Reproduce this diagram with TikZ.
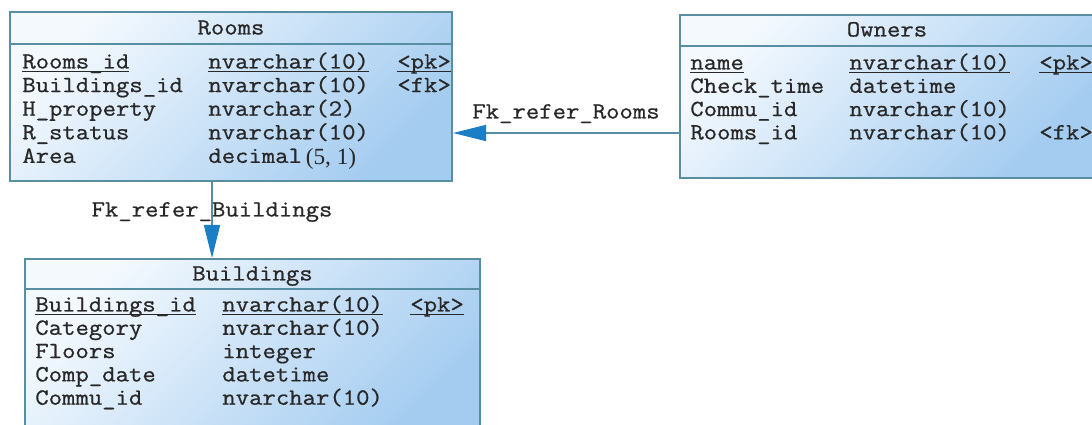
\documentclass[tikz,border=0pt]{standalone}
\usepackage{fontspec}
\setmonofont[FakeStretch=1.12, FakeBold=0.8]{Latin Modern Mono}
\newfontfamily\numfont{Liberation Serif}
\usepackage{xcolor}
\usepackage{tikz}
\usetikzlibrary{arrows.meta, positioning, calc}
\definecolor{tableborder}{RGB}{88,142,162}
\definecolor{tabletop}{RGB}{244,249,254}
\definecolor{tablebottom}{RGB}{164,204,240}
\definecolor{fkblue}{RGB}{28,126,196}
\definecolor{fieldtext}{RGB}{40,40,40}
\newcommand\pkline[1]{\underline{\smash{#1}}}

\begin{document}
\begin{tikzpicture}[
  table/.style={rectangle, draw=tableborder, line width=1.2pt, top color=tabletop, bottom color=tablebottom, shading angle=45, inner sep=0pt},
  sep/.style={tableborder, line width=1.2pt},
  field/.style={inner sep=0pt, anchor=base west, text=fieldtext, font=\ttfamily\fontsize{13.2}{15}\selectfont},
  ttl/.style={field, anchor=base},
  lbl/.style={field, anchor=base},
  fk/.style={-{Triangle[length=6.6mm, width=3.2mm, color=fkblue]}, tableborder, line width=1pt}
]
\clip (0,0) rectangle (21.84,-8.5);

% Tables
\node[table, minimum width=8.84cm, minimum height=3.38cm] (rooms) at (4.62,-1.93) {};
\node[table, minimum width=8.28cm, minimum height=3.26cm] (owners) at (17.74,-1.93) {};
\node[table, minimum width=9.1cm, minimum height=3.72cm] (buildings) at (5.05,-7.04) {};

% Title bars
\draw[sep] (rooms.west |- 0,-0.88) -- (rooms.east |- 0,-0.88);
\draw[sep] (owners.west |- 0,-0.92) -- (owners.east |- 0,-0.92);
\draw[sep] (buildings.west |- 0,-5.78) -- (buildings.east |- 0,-5.78);
\node[ttl] (rooms-title) at (4.62,-0.69) {Rooms};
\node[ttl] (owners-title) at (17.74,-0.73) {Owners};
\node[ttl] (buildings-title) at (5.05,-5.61) {Buildings};

% Rooms fields
\foreach \fname/\ftype/\fkey [count=\i from 0] in {
  \pkline{Rooms\_id}/\pkline{nvarchar(10)}/\pkline{<pk>},
  Buildings\_id/nvarchar(10)/<fk>,
  H\_property/nvarchar(2)/,
  R\_status/nvarchar(10)/,
  Area/{decimal\,\raisebox{-1pt}{\numfont(5, 1)}}/} {
  \node[field] (rooms-name\i) at (0.44,-1.37-0.472*\i) {\fname};
  \node[field] (rooms-type\i) at (4.16,-1.37-0.472*\i) {\ftype};
  \node[field] (rooms-key\i) at (7.94,-1.37-0.472*\i) {\fkey};
}

% Owners fields
\foreach \fname/\ftype/\fkey [count=\i from 0] in {
  \pkline{name}/\pkline{nvarchar(10)}/\pkline{<pk>},
  Check\_time/datetime/,
  Commu\_id/nvarchar(10)/,
  Rooms\_id/nvarchar(10)/<fk>} {
  \node[field] (owners-name\i) at (13.8,-1.39-0.466*\i) {\fname};
  \node[field] (owners-type\i) at (16.98,-1.39-0.466*\i) {\ftype};
  \node[field] (owners-key\i) at (20.78,-1.39-0.466*\i) {\fkey};
}

% Buildings fields
\foreach \fname/\ftype/\fkey [count=\i from 0] in {
  \pkline{Buildings\_id}/\pkline{nvarchar(10)}/\pkline{<pk>},
  Category/nvarchar(10)/,
  Floors/integer/,
  Comp\_date/datetime/,
  Commu\_id/nvarchar(10)/} {
  \node[field] (buildings-name\i) at (0.7,-6.23-0.466*\i) {\fname};
  \node[field] (buildings-type\i) at (4.44,-6.23-0.466*\i) {\ftype};
  \node[field] (buildings-key\i) at (8.2,-6.23-0.466*\i) {\fkey};
}

% References
\draw[fk] (owners.west |- 0,-2.66) -- node[lbl, yshift=0.29cm] (fk-rooms) {Fk\_refer\_Rooms} (rooms.east |- 0,-2.66);
\draw[fk] (rooms.south -| 4.24,0) -- node[lbl, yshift=0.07cm] (fk-buildings) {Fk\_refer\_Buildings} (buildings.north -| 4.24,0);
\end{tikzpicture}
\end{document}
